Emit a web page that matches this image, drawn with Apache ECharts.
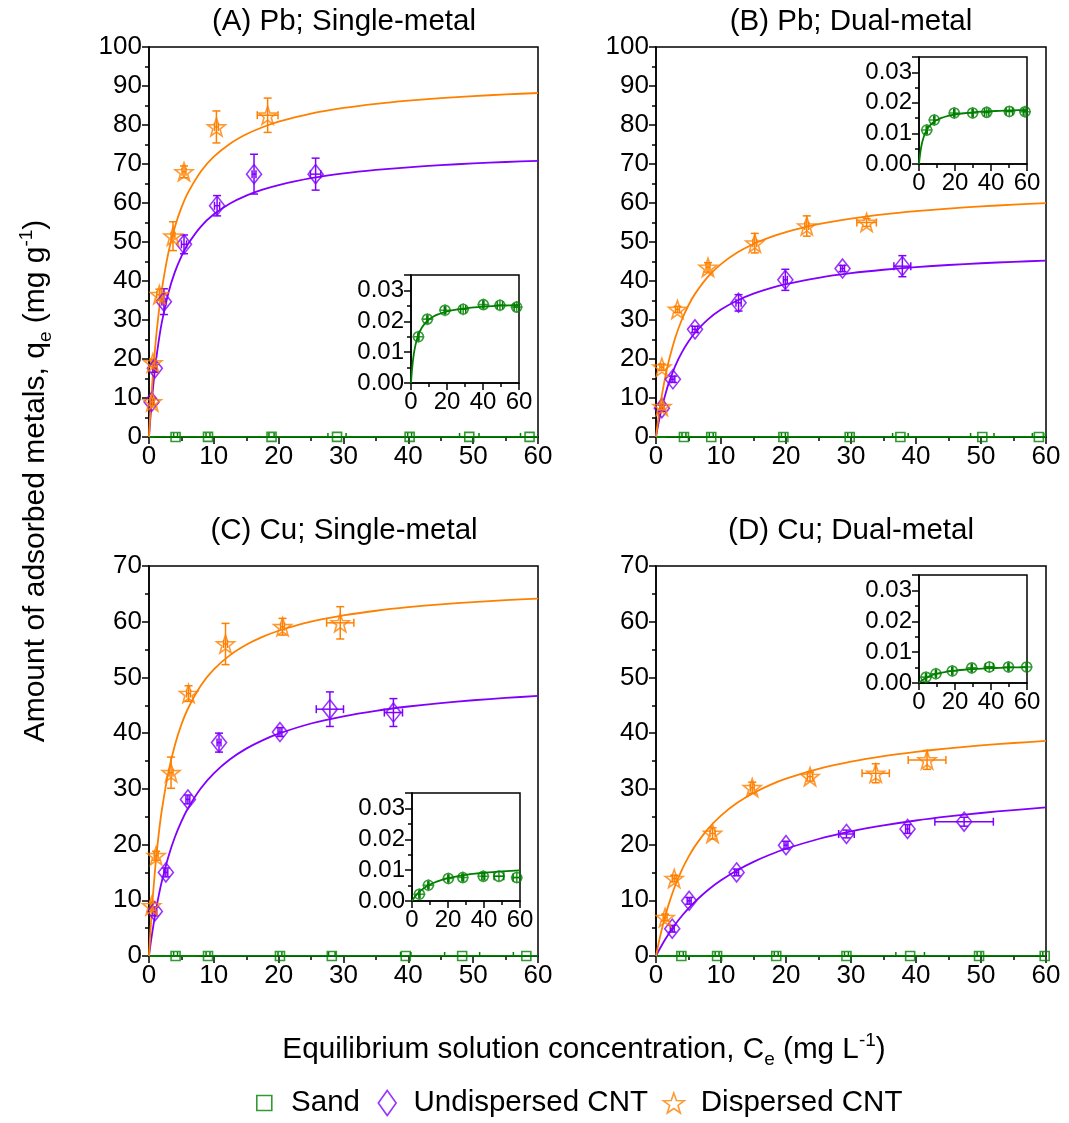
<!DOCTYPE html>
<html>
<head>
<meta charset="utf-8">
<script src="https://cdn.jsdelivr.net/npm/echarts@6/dist/echarts.min.js"></script>
<style>
html, body { margin: 0; padding: 0; background: #fff; }
#main { width: 1069px; height: 1123px; }
</style>
</head>
<body>
<div id="main"></div>
<script>
// points: [Ce, qe, qe error, Ce error]
var pbSingleDisp   = [[0.5,9.0,1.0,0.3],[0.6,19.0,1.0,0.3],[1.6,36.5,1.4,0.4],[3.7,51.5,3.7,0.3],[5.4,68.0,1.5,0.3],[10.4,79.5,4.1,0.3],[18.3,82.5,4.4,1.6]];
var pbSingleUndisp = [[0.4,9.0,0.8,0.3],[0.9,17.6,1.0,0.3],[2.3,34.7,3.3,0.3],[5.4,49.4,2.4,0.4],[10.5,59.3,2.6,0.4],[16.2,67.4,5.1,0.3],[25.7,67.4,4.1,0.8]];
var pbDualDisp     = [[0.9,7.8,0.8,0.3],[0.9,17.9,0.8,0.3],[3.3,32.7,0.8,0.3],[8.0,43.5,1.2,0.3],[15.2,49.7,2.5,0.3],[23.2,54.1,2.6,0.3],[32.4,55.0,1.0,1.5]];
var pbDualUndisp   = [[0.9,7.4,0.8,0.3],[2.6,14.8,0.8,0.3],[6.0,27.6,0.8,0.4],[12.7,34.4,2.1,0.4],[19.9,40.3,2.7,0.3],[28.7,43.2,0.8,0.3],[37.9,43.8,2.7,1.3]];
var cuSingleDisp   = [[0.4,9.0,0.8,0.2],[1.1,18.0,0.8,0.3],[3.4,32.9,2.8,0.3],[6.1,47.1,1.4,0.3],[11.8,56.0,3.7,0.3],[20.6,59.1,1.5,0.3],[29.5,59.8,2.9,2.1]];
var cuSingleUndisp = [[0.9,8.0,0.8,0.3],[2.6,15.0,0.8,0.3],[6.0,28.1,0.8,0.3],[10.8,38.3,1.7,0.3],[20.2,40.2,0.8,0.3],[27.9,44.3,3.1,2.1],[37.7,43.7,2.5,1.4]];
var cuDualDisp     = [[1.4,6.9,0.6,0.3],[2.8,13.9,0.6,0.3],[8.7,22.0,1.0,0.4],[14.8,30.2,1.0,0.3],[23.7,32.2,0.8,0.4],[33.8,32.8,1.7,2.1],[41.7,35.2,1.7,2.9]];
var cuDualUndisp   = [[2.5,4.9,0.6,0.3],[5.1,9.9,0.6,0.3],[12.4,15.0,0.6,0.3],[20.0,19.9,0.7,0.3],[29.3,21.9,0.7,1.2],[38.7,22.8,0.8,0.3],[47.4,24.1,0.8,4.5]];

// sand: [Ce, qe, Ce error]
var pbSingleSand = [[4.1,0.0150,0.3],[9.1,0.0207,0.3],[18.9,0.0236,0.4],[29.0,0.0239,1.4],[40.2,0.0254,0.3],[49.4,0.0252,1.5],[58.7,0.0246,1.4]];
var pbDualSand   = [[4.3,0.0111,0.3],[8.5,0.0144,0.3],[19.6,0.0167,0.3],[29.8,0.0167,0.3],[37.6,0.0169,1.2],[50.2,0.0172,1.8],[58.9,0.0171,1.0]];
var cuSingleSand = [[4.1,0.0022,0.3],[9.1,0.0051,0.3],[20.2,0.0073,0.3],[28.2,0.0076,0.5],[39.6,0.0080,0.8],[48.3,0.0080,2.7],[58.2,0.0076,2.0]];
var cuDualSand   = [[3.9,0.0019,0.3],[9.4,0.0030,0.3],[18.5,0.0039,0.3],[29.3,0.0049,0.3],[39.1,0.0052,2.2],[49.7,0.0052,0.3],[59.8,0.0052,0.3]];

// fitted curves at these Ce values
var fitCe = [0,0.25,0.5,1,1.5,2,3,4,5,6,8,10,12.5,15,17.5,20,25,30,35,40,45,50,55,60];
var pbSingleDispFit   = [0,7.43,13.76,23.96,31.81,38.05,47.33,53.9,58.8,62.59,68.08,71.87,75.21,77.62,79.43,80.85,82.92,84.37,85.43,86.24,86.88,87.41,87.84,88.2];
var pbSingleUndispFit = [0,5.67,10.54,18.46,24.63,29.58,37.01,42.33,46.32,49.43,53.96,57.1,59.88,61.9,63.42,64.61,66.36,67.57,68.47,69.16,69.71,70.15,70.51,70.82];
var pbDualDispFit     = [0,3.36,6.39,11.63,16.0,19.71,25.64,30.19,33.79,36.7,41.13,44.34,47.3,49.5,51.2,52.56,54.58,56.01,57.09,57.92,58.58,59.13,59.58,59.96];
var pbDualUndispFit   = [0,2.33,4.45,8.17,11.31,14.0,18.38,21.78,24.5,26.73,30.15,32.67,35.0,36.75,38.11,39.2,40.83,42.0,42.88,43.56,44.1,44.55,44.92,45.23];
var cuSingleDispFit   = [0,5.0,9.31,16.36,21.89,26.34,33.06,37.89,41.54,44.38,48.54,51.43,54.0,55.86,57.27,58.38,60.0,61.13,61.97,62.61,63.12,63.53,63.87,64.16];
var cuSingleUndispFit = [0,2.2,4.21,7.78,10.84,13.5,17.88,21.35,24.16,26.48,30.1,32.79,35.31,37.22,38.71,39.91,41.73,43.03,44.01,44.78,45.4,45.9,46.32,46.68];
var cuDualDispFit     = [0,1.46,2.83,5.31,7.5,9.45,12.78,15.51,17.79,19.72,22.82,25.2,27.49,29.26,30.68,31.83,33.6,34.89,35.88,36.65,37.28,37.8,38.23,38.6];
var cuDualUndispFit   = [0,0.57,1.12,2.16,3.14,4.05,5.73,7.22,8.56,9.76,11.85,13.59,15.4,16.9,18.17,19.25,21.0,22.35,23.43,24.32,25.05,25.67,26.2,26.66];
var pbSingleSandFit   = [0,0.00213,0.00394,0.00687,0.00912,0.01091,0.01357,0.01545,0.01685,0.01794,0.01951,0.0206,0.02156,0.02225,0.02276,0.02318,0.02377,0.02418,0.02448,0.02472,0.02491,0.02505,0.02518,0.02528];
var pbDualSandFit     = [0,0.00149,0.00276,0.0048,0.00637,0.00762,0.00948,0.01079,0.01177,0.01253,0.01363,0.01439,0.01506,0.01554,0.0159,0.01619,0.0166,0.01689,0.0171,0.01727,0.0174,0.0175,0.01759,0.01766];
var cuSingleSandFit   = [0,0.00023,0.00046,0.00089,0.00128,0.00166,0.00232,0.00291,0.00343,0.00389,0.00468,0.00533,0.006,0.00655,0.007,0.00738,0.008,0.00847,0.00884,0.00914,0.00939,0.0096,0.00978,0.00993];
var cuDualSandFit     = [0,0.00015,0.00029,0.00055,0.00078,0.001,0.00138,0.00171,0.002,0.00225,0.00267,0.003,0.00333,0.0036,0.00382,0.004,0.00429,0.0045,0.00467,0.0048,0.00491,0.005,0.00508,0.00514];

var panelTitles = ['(A) Pb; Single-metal', '(B) Pb; Dual-metal', '(C) Cu; Single-metal', '(D) Cu; Dual-metal'];
var mainYMax = [100, 100, 70, 70];

var FONT = '"Liberation Sans", Arial, sans-serif';
var ORANGE = '#FF8000', PURPLE = '#8000FF', GREEN = '#008000';
var STAR = 'path://M10,0 L12.35,6.76 L19.51,6.91 L13.8,11.24 L15.88,18.09 L10,14 L4.12,18.09 L6.2,11.24 L0.49,6.91 L7.65,6.76 Z';
var DIAMOND = 'path://M10,0 L20,14 L10,28 L0,14 Z';
var SQUARE = 'path://M0,0 L10,0 L10,10 L0,10 Z';
var CIRCLE_CROSS = 'path://M2,12 A10,10 0 1,1 22,12 A10,10 0 1,1 2,12 Z M12,0 L12,24 M0,12 L24,12';

var chart = echarts.init(document.getElementById('main'));

var grids = [
	{left: 149, top: 47, width: 389, height: 390},
	{left: 656, top: 47, width: 390, height: 390},
	{left: 149, top: 566, width: 389, height: 390},
	{left: 656, top: 566, width: 390, height: 390},
	// insets
	{left: 411, top: 275, width: 108, height: 108},
	{left: 919, top: 57, width: 108, height: 107},
	{left: 412, top: 793, width: 108, height: 108},
	{left: 919, top: 575, width: 108, height: 108}
].map(function (g) {
	return Object.assign({show: true, borderColor: '#000', borderWidth: 1.5, containLabel: false, outerBoundsMode: 'none'}, g);
});

var axisBase = function (fs) {
	return {
		type: 'value',
		axisLine: {onZero: false, lineStyle: {color: '#000', width: 1.5}},
		axisTick: {length: 7, lineStyle: {color: '#000', width: 1.5}},
		minorTick: {show: true, splitNumber: 2, length: 4, lineStyle: {color: '#000', width: 1.5}},
		axisLabel: {fontSize: fs, fontFamily: FONT, color: '#000', margin: 7},
		splitLine: {show: false}
	};
};

var xAxes = [], yAxes = [];
for (var i = 0; i < 4; i++) {
	xAxes.push(Object.assign(axisBase(26), {gridIndex: i, min: 0, max: 60, interval: 10}));
	yAxes.push(Object.assign(axisBase(26), {gridIndex: i, min: 0, max: mainYMax[i], interval: 10}));
}
for (var j = 0; j < 4; j++) {
	xAxes.push(Object.assign(axisBase(24), {gridIndex: 4 + j, min: 0, max: 60, interval: 20}));
	var yi = Object.assign(axisBase(24), {gridIndex: 4 + j, min: 0, max: 0.035, interval: 0.01});
	yi.axisLabel.formatter = function (v) { return v.toFixed(2); };
	yi.axisLabel.showMaxLabel = false;
	yAxes.push(yi);
}

// 误差棒
var errBar = function (params, api) {
	var x = api.value(0), y = api.value(1), ey = api.value(2), ex = api.value(3);
	var st = {stroke: api.visual('color'), lineWidth: 1.5, fill: null};
	var cap = 4;
	var kids = [];
	if (ey > 0) {
		var t = api.coord([x, y + ey]), b = api.coord([x, y - ey]);
		kids.push({type: 'line', shape: {x1: t[0], y1: t[1], x2: b[0], y2: b[1]}, style: st});
		kids.push({type: 'line', shape: {x1: t[0] - cap, y1: t[1], x2: t[0] + cap, y2: t[1]}, style: st});
		kids.push({type: 'line', shape: {x1: b[0] - cap, y1: b[1], x2: b[0] + cap, y2: b[1]}, style: st});
	}
	if (ex > 0) {
		var l = api.coord([x - ex, y]), r = api.coord([x + ex, y]);
		kids.push({type: 'line', shape: {x1: l[0], y1: l[1], x2: r[0], y2: r[1]}, style: st});
		kids.push({type: 'line', shape: {x1: l[0], y1: l[1] - cap, x2: l[0], y2: l[1] + cap}, style: st});
		kids.push({type: 'line', shape: {x1: r[0], y1: r[1] - cap, x2: r[0], y2: r[1] + cap}, style: st});
	}
	return {type: 'group', children: kids};
};

var fitLine = function (g, vals, color) {
	return {type: 'line', xAxisIndex: g, yAxisIndex: g, showSymbol: false, smooth: 0.25,
		data: fitCe.map(function (c, k) { return [c, vals[k]]; }),
		lineStyle: {color: color, width: 1.8}, itemStyle: {color: color}, z: 2, silent: true};
};
var errSeries = function (g, data, color) {
	return {type: 'custom', xAxisIndex: g, yAxisIndex: g, renderItem: errBar, data: data,
		itemStyle: {color: color}, z: 3, silent: true, clip: true};
};
var markSeries = function (g, name, data, symbol, size, color) {
	return {type: 'scatter', name: name, xAxisIndex: g, yAxisIndex: g, symbol: symbol, symbolSize: size,
		data: data.map(function (p) { return [p[0], p[1]]; }),
		itemStyle: {color: 'rgba(0,0,0,0)', borderColor: color, borderWidth: 1.6}, z: 4, silent: true};
};

var panels = [
	[pbSingleSand, pbSingleSandFit, pbSingleUndisp, pbSingleUndispFit, pbSingleDisp, pbSingleDispFit],
	[pbDualSand, pbDualSandFit, pbDualUndisp, pbDualUndispFit, pbDualDisp, pbDualDispFit],
	[cuSingleSand, cuSingleSandFit, cuSingleUndisp, cuSingleUndispFit, cuSingleDisp, cuSingleDispFit],
	[cuDualSand, cuDualSandFit, cuDualUndisp, cuDualUndispFit, cuDualDisp, cuDualDispFit]
];

var series = [];
panels.forEach(function (p, g) {
	var sandErr = p[0].map(function (d) { return [d[0], d[1], 0, d[2]]; });
	series.push(fitLine(g, p[1], GREEN));
	series.push(fitLine(g, p[3], PURPLE));
	series.push(fitLine(g, p[5], ORANGE));
	series.push(errSeries(g, sandErr, GREEN));
	series.push(errSeries(g, p[2], PURPLE));
	series.push(errSeries(g, p[4], ORANGE));
	series.push(markSeries(g, 'Sand', p[0], SQUARE, 9, GREEN));
	series.push(markSeries(g, 'Undispersed CNT', p[2], DIAMOND, [15, 19], PURPLE));
	series.push(markSeries(g, 'Dispersed CNT', p[4], STAR, 18, ORANGE));
	// 插图
	series.push(fitLine(4 + g, p[1], GREEN));
	series.push(errSeries(4 + g, sandErr, GREEN));
	series.push(markSeries(4 + g, 'Sand', p[0], CIRCLE_CROSS, 12, GREEN));
});

var graphics = [];
var titlePos = [[344, 22], [851, 22], [344, 531], [851, 531]];
panelTitles.forEach(function (t, k) {
	graphics.push({type: 'text', x: titlePos[k][0], y: titlePos[k][1],
		style: {text: t, fontSize: 29.5, fontFamily: FONT, fill: '#000', align: 'center', verticalAlign: 'middle'}});
});
var richSS = {
	sub: {fontSize: 19, fontFamily: FONT, fill: '#000', verticalAlign: 'bottom', lineHeight: 38},
	sup: {fontSize: 19, fontFamily: FONT, fill: '#000', verticalAlign: 'top', lineHeight: 38}
};
graphics.push({type: 'text', x: 584, y: 1050,
	style: {text: 'Equilibrium solution concentration, C{sub|e} (mg L{sup|-1})', rich: richSS,
		fontSize: 29.7, fontFamily: FONT, fill: '#000', align: 'center', verticalAlign: 'middle'}});
graphics.push({type: 'text', x: 36, y: 481, rotation: Math.PI / 2,
	style: {text: 'Amount of adsorbed metals, q{sub|e} (mg g{sup|-1})', rich: richSS,
		fontSize: 30, fontFamily: FONT, fill: '#000', align: 'center', verticalAlign: 'middle'}});

var legendText = {fontSize: 29.5, fontFamily: FONT, color: '#000'};
var legendItem = function (name, icon, color, left, w, h) {
	return {left: left, top: 1088, padding: 0, itemWidth: w, itemHeight: h, symbolKeepAspect: true,
		selectedMode: false, textStyle: legendText,
		data: [{name: name, icon: icon, itemStyle: {color: 'rgba(0,0,0,0)', borderColor: color, borderWidth: 1.6}}]};
};

chart.setOption({
	backgroundColor: '#fff',
	animation: false,
	grid: grids,
	xAxis: xAxes,
	yAxis: yAxes,
	legend: [
		legendItem('Sand', SQUARE, GREEN, 256, 43.5, 15),
		legendItem('Undispersed CNT', DIAMOND, PURPLE, 377.5, 42.6, 25),
		legendItem('Dispersed CNT', STAR, ORANGE, 662.5, 44, 20)
	],
	graphic: graphics,
	series: series
});
</script>
</body>
</html>
